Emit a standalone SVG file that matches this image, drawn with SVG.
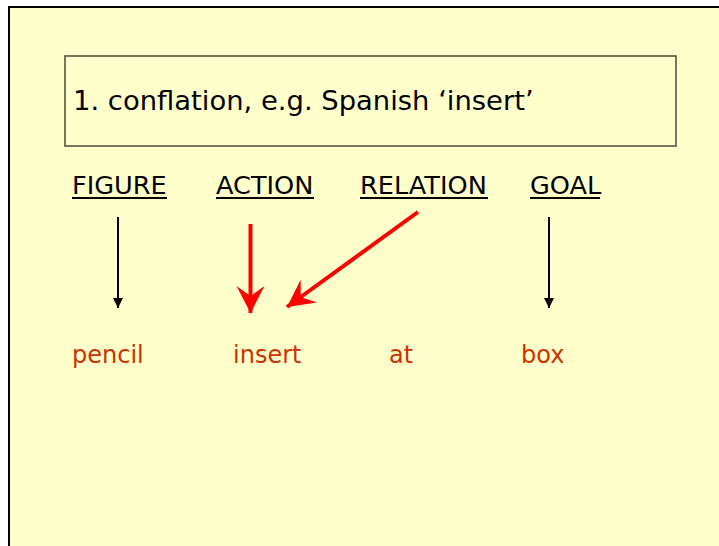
<svg xmlns="http://www.w3.org/2000/svg" width="719" height="546" viewBox="0 0 719 546">
<defs>
<style>
.t{font-family:"DejaVu Sans","Liberation Sans",sans-serif;}
.title{font-size:27.4px;fill:#000;}
.lab{font-size:25.6px;fill:#000;}
.word{font-size:24px;fill:#CC3300;}
.ul{stroke:#000;stroke-width:2;}
</style>
<marker id="ab" viewBox="0 0 10 10" refX="10" refY="5" markerWidth="10" markerHeight="10" markerUnits="userSpaceOnUse" orient="auto">
<path d="M0,0 L10,5 L0,10 Z" fill="#000"/>
</marker>
<marker id="ar" viewBox="0 0 28 30" refX="27" refY="15" markerWidth="28" markerHeight="30" markerUnits="userSpaceOnUse" orient="auto">
<path d="M0,1 L27,15 L0,29 L10,15 Z" fill="#FF0000"/>
</marker>
</defs>
<rect x="0" y="0" width="719" height="546" fill="#FFFFFF"/>
<rect x="9" y="7" width="720" height="550" fill="#FFFFCC" stroke="#000" stroke-width="2"/>
<g id="title">
<rect x="65" y="56" width="611" height="90" fill="#FFFFCC" stroke="#4a4a3a" stroke-width="1.5"/>
<text class="t title" x="73" y="110">1. conflation, e.g. Spanish ‘insert’</text>
</g>
<g id="figure">
<text class="t lab" x="72" y="194">FIGURE</text>
<line class="ul" x1="72" y1="198" x2="167" y2="198"/>
</g>
<g id="action">
<text class="t lab" x="216" y="194">ACTION</text>
<line class="ul" x1="216" y1="198" x2="314" y2="198"/>
</g>
<g id="relation">
<text class="t lab" x="360" y="194">RELATION</text>
<line class="ul" x1="360" y1="198" x2="488" y2="198"/>
</g>
<g id="goal">
<text class="t lab" x="530" y="194">GOAL</text>
<line class="ul" x1="530" y1="198" x2="600" y2="198"/>
</g>
<g id="pencil"><text class="t word" x="72" y="363">pencil</text></g>
<g id="insert"><text class="t word" x="233" y="363">insert</text></g>
<g id="at"><text class="t word" x="389" y="363">at</text></g>
<g id="box"><text class="t word" x="521" y="363">box</text></g>
<g id="connectors">
<line x1="118" y1="217" x2="118" y2="308" stroke="#000" stroke-width="2" marker-end="url(#ab)"/>
<line x1="250.5" y1="224" x2="250.5" y2="313" stroke="#FF0000" stroke-width="4" marker-end="url(#ar)"/>
<line x1="418" y1="212" x2="287" y2="307" stroke="#FF0000" stroke-width="4" marker-end="url(#ar)"/>
<line x1="549" y1="217" x2="549" y2="308" stroke="#000" stroke-width="2" marker-end="url(#ab)"/>
</g>
</svg>
